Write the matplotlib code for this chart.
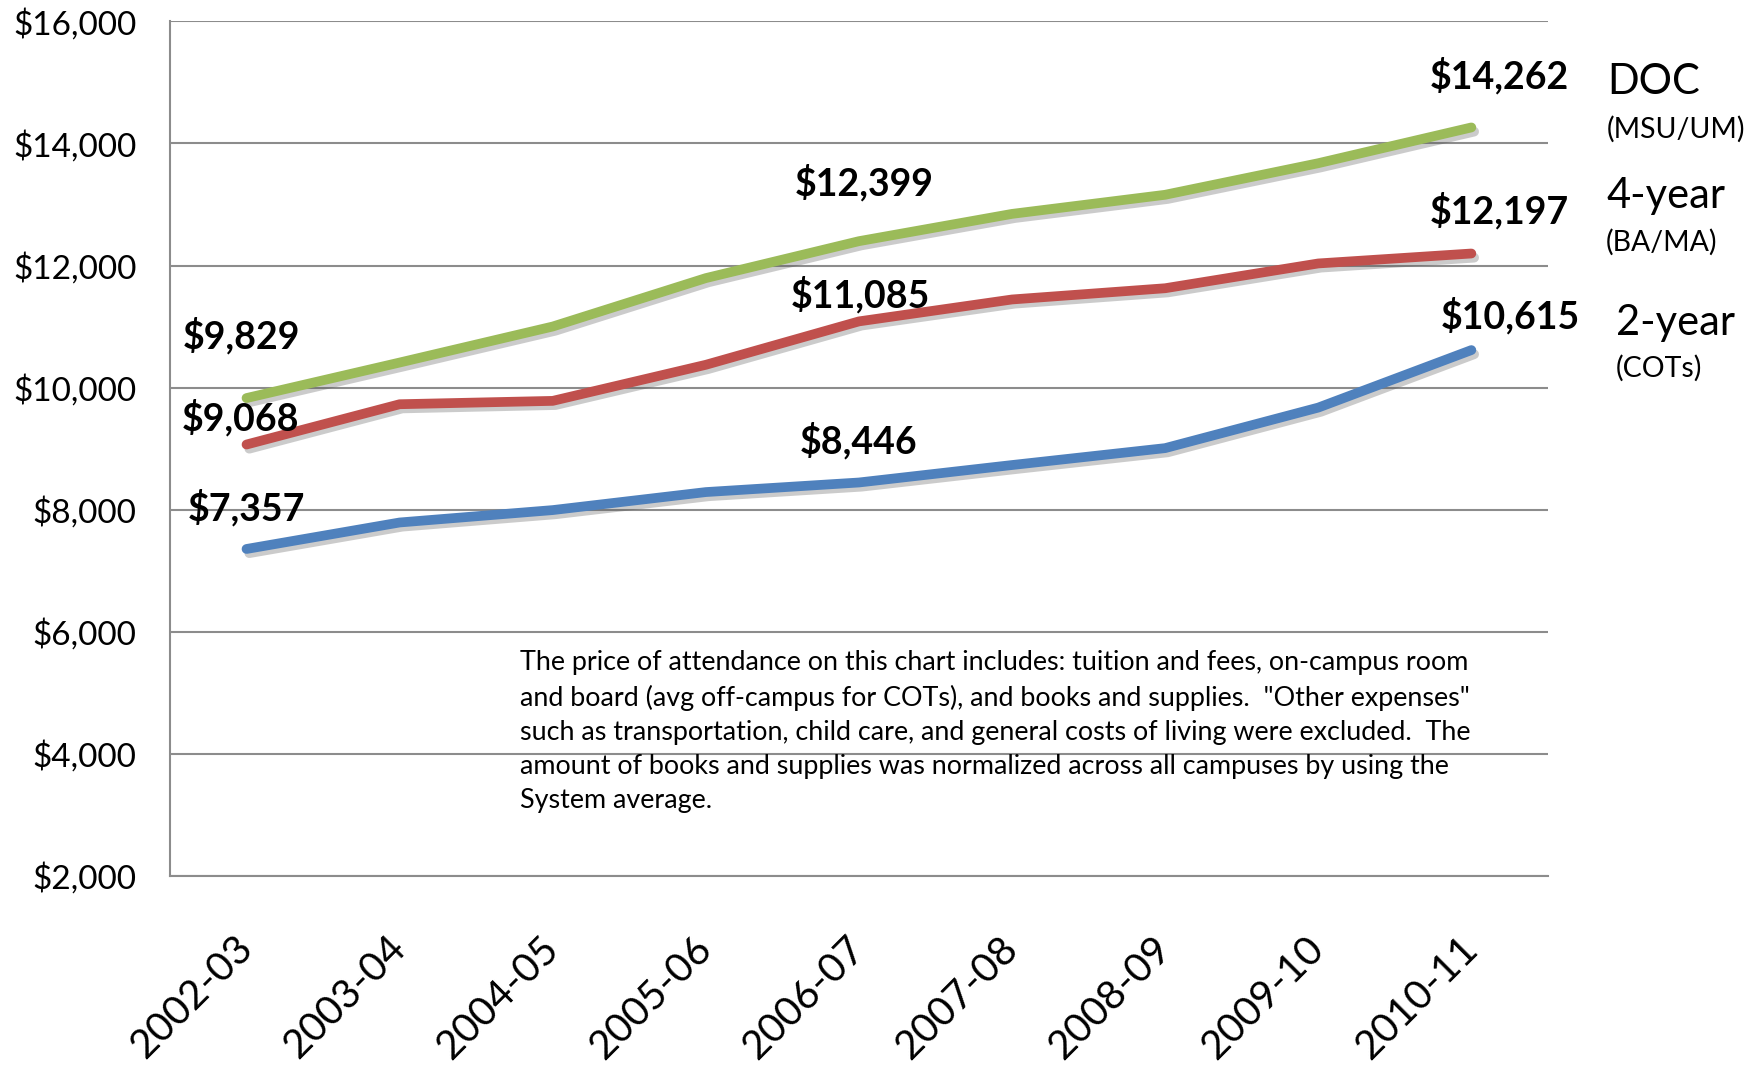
import matplotlib
matplotlib.use("Agg")
import matplotlib.pyplot as plt
import matplotlib.patheffects as pe
from matplotlib.ticker import FuncFormatter

plt.rcParams['font.family'] = ['Lato', 'DejaVu Sans']

# Price of attendance by sector
years = ['2002-03', '2003-04', '2004-05', '2005-06', '2006-07',
         '2007-08', '2008-09', '2009-10', '2010-11']
doc = [9829, 10411, 11001, 11794, 12399, 12846, 13159, 13676, 14262]
four_year = [9068, 9728, 9783, 10374, 11085, 11444, 11628, 12034, 12197]
two_year = [7357, 7791, 7994, 8289, 8446, 8732, 9009, 9673, 10615]

# which points get a value label
labelled = [0, 4, 8]

note = ('The price of attendance on this chart includes: tuition and fees, on-campus room\n'
        'and board (avg off-campus for COTs), and books and supplies.  "Other expenses"\n'
        'such as transportation, child care, and general costs of living were excluded.  The\n'
        'amount of books and supplies was normalized across all campuses by using the\n'
        'System average.')

fig = plt.figure(figsize=(17.65, 10.67), dpi=100)
ax = fig.add_axes([0.0963, 0.179, 0.7807, 0.801])

x = list(range(len(years)))
shadow = [pe.SimpleLineShadow(offset=(2, -3), shadow_color='#555555', alpha=0.3),
          pe.Normal()]

series = [
    (doc, '#9BBB59', [(-4, 45), (4, 42), (20, 37)]),
    (four_year, '#C0504D', [(-4, 19), (1, 19), (20, 31)]),
    (two_year, '#4F81BD', [(0, 30), (0, 30), (28, 25)]),
]
for vals, color, offsets in series:
    ax.plot(x, vals, color=color, lw=7, solid_capstyle='round',
            solid_joinstyle='round', path_effects=shadow, zorder=3)
    for i, off in zip(labelled, offsets):
        ax.annotate(f'${vals[i]:,}', (x[i], vals[i]), xytext=off,
                    textcoords='offset points', ha='center', va='center',
                    fontsize=27, fontweight='bold', zorder=4)

ax.set_xlim(-0.5, len(years) - 0.5)
ax.set_ylim(2000, 16000)
ax.set_yticks(range(2000, 16001, 2000))
ax.yaxis.set_major_formatter(FuncFormatter(lambda v, p: f'${v:,.0f}'))
ax.grid(axis='y', color='#8c8c8c', lw=1.5)
ax.set_axisbelow(True)
for s in ['top', 'right']:
    ax.spines[s].set_visible(False)
for s in ['left', 'bottom']:
    ax.spines[s].set_color('#8c8c8c')
    ax.spines[s].set_linewidth(1.5)
ax.tick_params(axis='both', length=0)
ax.tick_params(axis='y', labelsize=24, pad=24)
ax.set_xticks(x)
ax.set_xticklabels(years, rotation=45, ha='right', va='center',
                   rotation_mode='anchor', fontsize=29)
ax.tick_params(axis='x', pad=48)

# series names on the right
W, H = 1765, 1067
names = [('DOC', '(MSU/UM)', 1607, 82, 129),
         ('4-year', '(BA/MA)', 1606, 196, 242),
         ('2-year', '(COTs)', 1616, 323, 368)]
for big, small, px, y1, y2 in names:
    fig.text(px / W, 1 - y1 / H, big, fontsize=30, va='center', ha='left')
    fig.text(px / W, 1 - y2 / H, small, fontsize=20.5, va='center', ha='left')

fig.text(520 / W, 1 - 650 / H, note, fontsize=19.4, va='top', ha='left',
         linespacing=1.45)

fig.savefig('out.png', dpi=100)
